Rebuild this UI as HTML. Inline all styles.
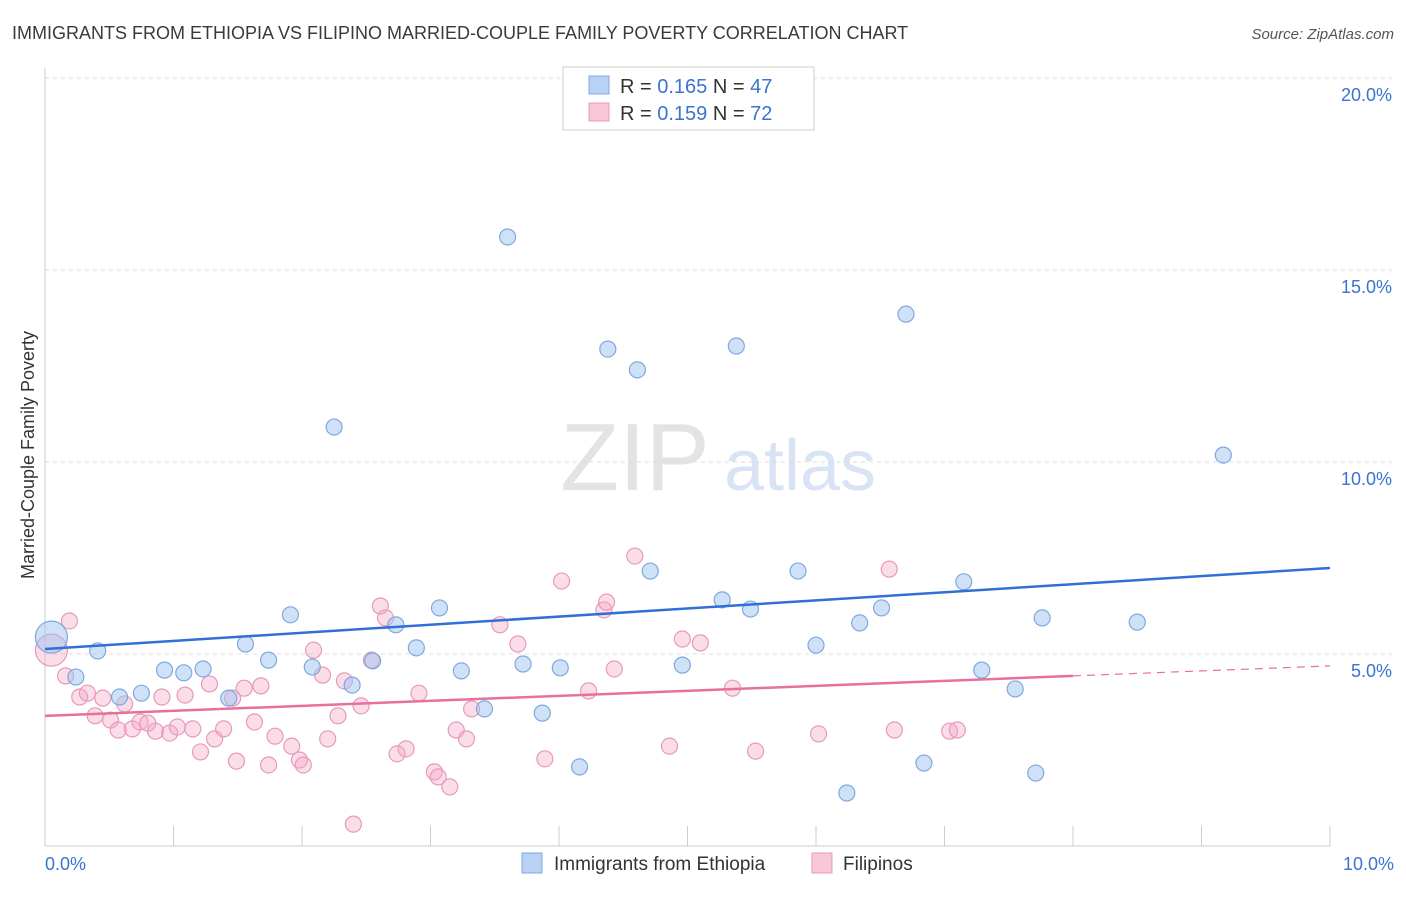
<!DOCTYPE html>
<html><head><meta charset="utf-8"><style>
body{margin:0;background:#fff;font-family:"Liberation Sans",sans-serif;}
svg text{font-family:"Liberation Sans",sans-serif;}
</style></head><body>
<svg id="chart" width="1406" height="892" xmlns="http://www.w3.org/2000/svg">
<text x="12" y="39" font-size="18" fill="#3a3a3a">IMMIGRANTS FROM ETHIOPIA VS FILIPINO MARRIED-COUPLE FAMILY POVERTY CORRELATION CHART</text>
<text x="1394" y="39" font-size="15" fill="#555" text-anchor="end" font-style="italic">Source: ZipAtlas.com</text>
<g>
<text x="635" y="490" font-size="96" fill="#d8d8d8" font-family="Liberation Serif" text-anchor="middle" opacity="0.7">ZIP</text>
<text x="800" y="490" font-size="72" fill="#c8d9f0" text-anchor="middle" opacity="0.7">atlas</text>
</g>
<g id="grid"></g>
<g id="axes"></g>
<g id="marks"></g>
<text transform="translate(34,455) rotate(-90)" font-size="18" fill="#333" text-anchor="middle">Married-Couple Family Poverty</text>
<g>
<rect x="563" y="67" width="251" height="63" fill="#fff" stroke="#ccc"/>
<rect x="589" y="76" width="20" height="18" fill="#b8d2f4" stroke="#7fa8e0"/>
<text x="620" y="93" font-size="20" fill="#333">R = <tspan fill="#3b73d1">0.165</tspan>   N = <tspan fill="#3b73d1">47</tspan></text>
<rect x="589" y="103" width="20" height="18" fill="#f8c8d8" stroke="#e89ab8"/>
<text x="620" y="120" font-size="20" fill="#333">R = <tspan fill="#3b73d1">0.159</tspan>   N = <tspan fill="#3b73d1">72</tspan></text>
</g>
<g>
<rect x="522" y="853" width="20" height="20" fill="#b8d2f4" stroke="#7fa8e0"/>
<text x="554" y="870" font-size="19" fill="#333">Immigrants from Ethiopia</text>
<rect x="812" y="853" width="20" height="20" fill="#f8c8d8" stroke="#e89ab8"/>
<text x="843" y="870" font-size="19" fill="#333">Filipinos</text>
</g>
</svg>
<script>
const yTicks=[5,10,15,20];
const yTickLabels=["5.0%","10.0%","15.0%","20.0%"];
const xTickLabels=["0.0%","10.0%"];
const blueX=[0.05,0.24,0.41,0.58,0.75,0.93,1.08,1.23,1.43,1.56,1.74,1.91,2.08,2.25,2.39,2.55,2.73,2.89,3.07,3.24,3.42,3.60,3.72,3.87,4.01,4.16,4.38,4.61,4.71,4.96,5.27,5.38,5.49,5.86,6.00,6.24,6.34,6.51,6.70,6.84,7.15,7.29,7.55,7.71,7.76,8.50,9.17];
const blueY=[5.44,4.40,5.08,3.88,3.98,4.58,4.51,4.61,3.85,5.26,4.84,6.02,4.66,10.91,4.19,4.82,5.76,5.16,6.20,4.56,3.57,15.86,4.74,3.46,4.64,2.06,12.94,12.40,7.16,4.71,6.41,13.02,6.17,7.16,5.23,1.38,5.81,6.20,13.85,2.16,6.88,4.58,4.09,1.90,5.94,5.83,10.18];
const pinkX=[0.05,0.19,0.16,0.27,0.33,0.39,0.45,0.51,0.57,0.62,0.68,0.74,0.80,0.86,0.91,0.97,1.03,1.09,1.15,1.21,1.28,1.32,1.39,1.46,1.49,1.55,1.63,1.68,1.74,1.79,1.92,1.98,2.01,2.09,2.16,2.20,2.28,2.33,2.40,2.46,2.54,2.61,2.65,2.74,2.81,2.91,3.03,3.06,3.15,3.20,3.28,3.32,3.54,3.68,3.89,4.02,4.23,4.35,4.37,4.43,4.59,4.86,4.96,5.10,5.35,5.53,6.02,6.57,6.61,7.04,7.10];
const pinkY=[5.10,5.86,4.43,3.88,3.98,3.39,3.85,3.28,3.02,3.70,3.05,3.23,3.20,2.99,3.88,2.94,3.10,3.93,3.05,2.45,4.22,2.79,3.05,3.85,2.21,4.11,3.23,4.17,2.11,2.86,2.60,2.24,2.11,5.10,4.45,2.79,3.39,4.30,0.57,3.65,4.84,6.25,5.94,2.40,2.53,3.98,1.93,1.80,1.54,3.02,2.79,3.57,5.76,5.26,2.27,6.90,4.04,6.15,6.35,4.61,7.55,2.60,5.39,5.29,4.11,2.47,2.92,7.21,3.02,2.99,3.02];
const blueTrend=[5.13,7.24];
const pinkTrend=[3.39,4.69];
const pinkSolidEnd=8;
const X0=45,X1=1330,Y0=846,PPY=38.4;
const sx=v=>X0+(X1-X0)*v/10, sy=v=>Y0-v*PPY;
const NS="http://www.w3.org/2000/svg";
function mk(tag,attrs,parent){const e=document.createElementNS(NS,tag);for(const k in attrs)e.setAttribute(k,attrs[k]);parent.appendChild(e);return e;}
const grid=document.getElementById('grid'),axes=document.getElementById('axes'),marks=document.getElementById('marks');
yTicks.forEach((t,i)=>{
 const l=mk('line',{x1:X0,x2:1392,y1:sy(t),y2:sy(t),stroke:'#ddd','stroke-dasharray':'4,4'},grid);
 
 
 const tx=mk('text',{x:1392,y:sy(t)+23,'font-size':18,fill:'#3b73d1','text-anchor':'end'},axes);
 tx.textContent=yTickLabels[i];
 
 
});
const ax=mk('line',{x1:X0,x2:X0,y1:68,y2:Y0,stroke:'#ccc'},axes);


const bx=mk('line',{x1:X0,x2:X1,y1:Y0,y2:Y0,stroke:'#ccc'},axes);


for(let i=0;i<=10;i++){const t=mk('line',{x1:sx(i),x2:sx(i),y1:826,y2:Y0,stroke:'#ccc'},axes);
 
 }
[[0,'start',45],[10,'end',1394]].forEach((p,i)=>{const t=mk('text',{x:p[2],y:870,'font-size':18,fill:'#3b73d1','text-anchor':p[1]},axes);t.textContent=xTickLabels[i];
 
 });
function pts(xs,ys,fill,stroke,name){xs.forEach((x,i)=>{const big=i===0;
 const c=mk('circle',{cx:sx(x),cy:sy(ys[i]),r:big?16:8,fill:fill,stroke:stroke,'stroke-width':1.2},marks);
 
 });}
pts(pinkX,pinkY,'rgba(244,170,200,0.4)','#e89ab8','filipino-point');
pts(blueX,blueY,'rgba(160,196,240,0.5)','#7fa8e0','ethiopia-point');
const bl=mk('line',{x1:sx(0),y1:sy(blueTrend[0]),x2:sx(10),y2:sy(blueTrend[1]),stroke:'#2f6fd6','stroke-width':2.5},marks);


const pm=pinkTrend[0]+(pinkTrend[1]-pinkTrend[0])*pinkSolidEnd/10;
const pl=mk('line',{x1:sx(0),y1:sy(pinkTrend[0]),x2:sx(pinkSolidEnd),y2:sy(pm),stroke:'#e8709c','stroke-width':2.5},marks);


const pd=mk('line',{x1:sx(pinkSolidEnd),y1:sy(pm),x2:sx(10),y2:sy(pinkTrend[1]),stroke:'#e8709c','stroke-width':1.2,'stroke-dasharray':'8,6'},marks);


</script>
</body></html>
